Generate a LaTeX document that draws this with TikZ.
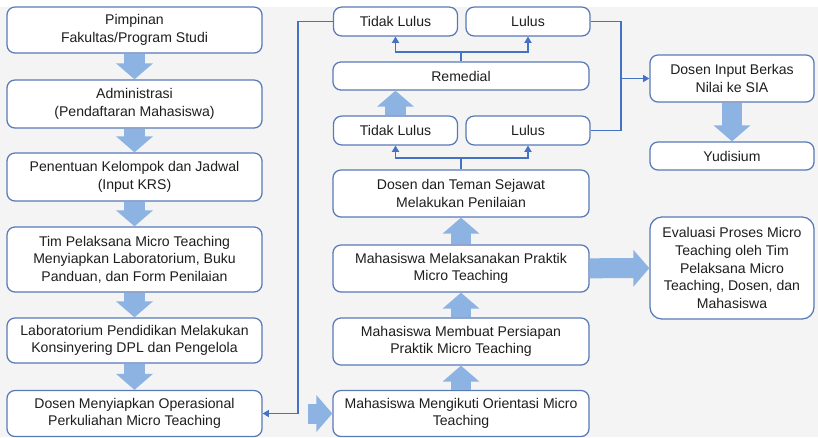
\documentclass[tikz,border=0pt]{standalone}
\usepackage{fontspec}
\setmainfont{Liberation Sans}
\usetikzlibrary{arrows.meta}

\definecolor{boxline}{RGB}{88,122,184}
\definecolor{linkblue}{RGB}{68,114,196}
\definecolor{fatblue}{RGB}{141,179,226}
\definecolor{bggray}{RGB}{244,244,244}
\definecolor{txt}{RGB}{30,30,30}

\begin{document}
\begin{tikzpicture}[x=0.025cm, y=-0.025cm]
  \tikzstyle{box}=[draw=boxline, line width=0.9pt, fill=white, rounded corners=0.2cm,
                   align=center, inner sep=2pt, text=txt, font=\fontsize{10}{12.5}\selectfont]
  \tikzstyle{wide}=[minimum width=6.375cm]
  \tikzstyle{mid}=[minimum width=6.4cm]
  \tikzstyle{half}=[minimum width=3.1cm, minimum height=0.72cm]
  \tikzstyle{side}=[minimum width=4.1cm]
  \tikzstyle{fat}=[draw=fatblue, line width=0.5cm, -{Triangle[length=0.4cm, width=0.9cm]}]
  \tikzstyle{link}=[draw=linkblue, line width=1.4pt]
  \tikzstyle{edge}=[link, -{Triangle[length=4.5pt, width=5pt]}]

  \useasboundingbox (0,0) rectangle (818,437);
  \fill[white]  (0,0) rectangle (818,437);
  \fill[bggray] (0,7) rectangle (818,437);

  % left column
  \node[box, wide, minimum height=1.15cm]  (pim) at (134.5, 30)    {Pimpinan\\Fakultas/Program Studi};
  \node[box, wide, minimum height=1.2cm]   (adm) at (134.5, 104)   {Administrasi\\(Pendaftaran Mahasiswa)};
  \node[box, wide, minimum height=1.2cm]   (krs) at (134.5, 177)   {Penentuan Kelompok dan Jadwal\\(Input KRS)};
  \node[box, wide, minimum height=1.625cm] (tim) at (134.5, 259.5) {Tim Pelaksana Micro Teaching\\Menyiapkan Laboratorium, Buku\\Panduan, dan Form Penilaian};
  \node[box, wide, minimum height=1.125cm] (lab) at (134.5, 340.5) {Laboratorium Pendidikan Melakukan\\Konsinyering DPL dan Pengelola};
  \node[box, wide, minimum height=1.15cm]  (ops) at (134.5, 413.5) {Dosen Menyiapkan Operasional\\Perkuliahan Micro Teaching};

  % middle column
  \node[box, half] (tl1) at (395.5, 21.5)  {Tidak Lulus};
  \node[box, half] (lu1) at (528,   21.5)  {Lulus};
  \node[box, mid, minimum height=0.7cm]   (rem) at (461, 76)    {Remedial};
  \node[box, half] (tl2) at (395.5, 130.5) {Tidak Lulus};
  \node[box, half] (lu2) at (528,   130.5) {Lulus};
  \node[box, mid, minimum height=1.175cm] (nil) at (461, 193.5) {Dosen dan Teman Sejawat\\Melakukan Penilaian};
  \node[box, mid, minimum height=1.175cm] (mel) at (461, 268.5) {Mahasiswa Melaksanakan Praktik\\Micro Teaching};
  \node[box, mid, minimum height=1.175cm] (mem) at (461, 341.5) {Mahasiswa Membuat Persiapan\\Praktik Micro Teaching};
  \node[box, mid, minimum height=1.15cm]  (ori) at (461, 413.5) {Mahasiswa Mengikuti Orientasi Micro\\Teaching};

  % right column
  \node[box, side, minimum height=1.175cm] (inp) at (732, 78.5) {Dosen Input Berkas\\Nilai ke SIA};
  \node[box, side, minimum height=0.7cm]   (yud) at (732, 156)  {Yudisium};
  \node[box, side, minimum height=2.55cm, rounded corners=0.3cm] (eva) at (732, 268)
    {Evaluasi Proses Micro\\Teaching oleh Tim\\Pelaksana Micro\\Teaching, Dosen, dan\\Mahasiswa};

  % block arrows
  \draw[fat] (pim) -- (adm);
  \draw[fat] (adm) -- (krs);
  \draw[fat] (krs) -- (tim);
  \draw[fat] (tim) -- (lab);
  \draw[fat] (lab) -- (ops);
  \draw[fat, shorten <=1.125cm] (ops) -- (ori);
  \draw[fat] (ori) -- (mem);
  \draw[fat] (mem) -- (mel);
  \draw[fat] (mel) -- (nil);
  \draw[fat] (tl2.north) -- (tl2.north |- rem.south);
  \draw[fat] (mel) -- (eva);
  \draw[fat] (inp) -- (yud);

  % thin connectors
  \coordinate (f1) at (461, 158);
  \coordinate (f2) at (461, 52);
  \coordinate (c1) at (298, 21.5);
  \coordinate (c2) at (621, 21.5);

  \draw[link] (nil.north) -- (f1);
  \draw[edge] (f1) -| (tl2);
  \draw[edge] (f1) -| (lu2);
  \draw[link] (rem.north) -- (f2);
  \draw[edge] (f2) -| (tl1);
  \draw[edge] (f2) -| (lu1);
  \draw[edge] (tl1.west) -- (c1) |- (ops.east);
  \draw[link] (lu1.east) -- (c2) |- (lu2.east);
  \draw[edge] (inp.west -| c2) -- (inp.west);
\end{tikzpicture}
\end{document}
